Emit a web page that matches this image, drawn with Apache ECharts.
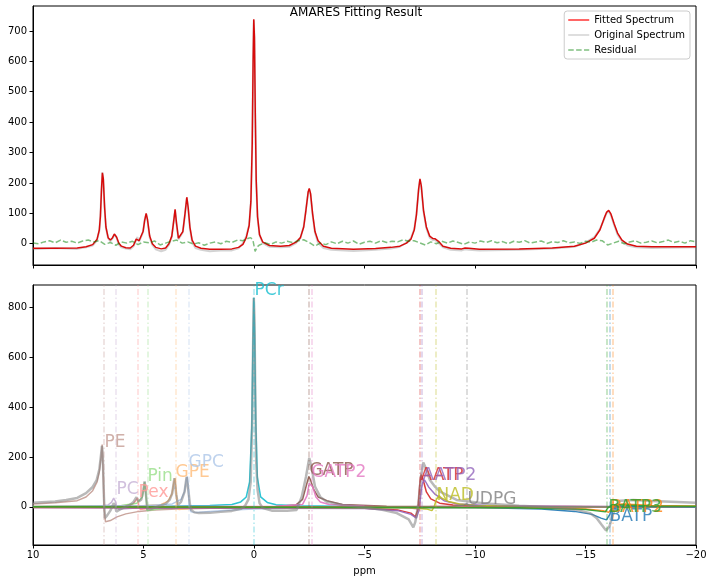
<!DOCTYPE html>
<html>
<head>
<meta charset="utf-8">
<script src="https://cdn.jsdelivr.net/npm/echarts@6/dist/echarts.min.js"></script>
<style>
html, body { margin: 0; padding: 0; background: #fff; }
#main { width: 712px; height: 582px; }
</style>
</head>
<body>
<div id="main"></div>
<script>
// AMARES fit: top = spectrum / fit / residual, bottom = components
var FONT = 'DejaVu Sans';

// ---- top panel ----
var fitPpm = [10, 9, 8, 7.6, 7.3, 7.1, 7.0, 6.95, 6.9, 6.86,
	6.82, 6.76, 6.7, 6.6, 6.5, 6.4, 6.32, 6.28, 6.22, 6.12,
	6.0, 5.8, 5.6, 5.45, 5.33, 5.28, 5.2, 5.12, 5.02, 4.95,
	4.88, 4.82, 4.72, 4.6, 4.45, 4.2, 4.0, 3.85, 3.72, 3.64,
	3.57, 3.51, 3.42, 3.33, 3.22, 3.12, 3.04, 2.98, 2.9, 2.8,
	2.65, 2.4, 2.0, 1.5, 1.0, 0.7, 0.5, 0.35, 0.22, 0.14,
	0.08, 0.04, 0.01, -0.02, -0.06, -0.1, -0.16, -0.25, -0.4, -0.7,
	-1.2, -1.6, -1.9, -2.1, -2.25, -2.35, -2.45, -2.5, -2.56, -2.65,
	-2.76, -2.9, -3.14, -3.5, -4.5, -5.5, -6.2, -6.6, -6.9, -7.1,
	-7.25, -7.35, -7.45, -7.51, -7.57, -7.67, -7.8, -7.95, -8.1, -8.2,
	-8.35, -8.55, -8.9, -9.4, -9.55, -9.63, -9.72, -10.2, -12, -13.5,
	-14.5, -15.0, -15.4, -15.65, -15.85, -15.95, -16.05, -16.15, -16.3, -16.45,
	-16.65, -16.9, -17.3, -18, -20];
var fitVal = [-15, -15, -14, -10, -3, 15, 45, 90, 180, 233,
	215, 120, 55, 20, 12, 20, 32, 34, 22, 2,
	-8, -13, -14, -5, 15, 20, 10, 10, 40, 75,
	100, 80, 25, 0, -12, -17, -14, 0, 25, 70,
	113, 70, 18, 12, 40, 100, 153, 120, 55, 12,
	-8, -15, -18, -18, -17, -12, -2, 20, 60, 140,
	330, 600, 738, 680, 420, 210, 90, 30, 5, -6,
	-8, -6, 5, 20, 55, 110, 170, 182, 165, 100,
	40, 10, -8, -15, -18, -16, -12, -8, 2, 15,
	45, 95, 180, 213, 190, 110, 55, 25, 17, 16,
	8, -8, -15, -17, -14, -10, -15, -18, -17, -14,
	-8, 2, 18, 45, 85, 103, 110, 98, 65, 35,
	12, -1, -8, -10, -10];
var origVal = [-18, -14, -17, -12, -6, 12, 42, 92, 178, 235,
	212, 118, 52, 18, 8, 18, 30, 36, 20, -2,
	-12, -16, -18, -8, 12, 22, 6, 12, 38, 78,
	98, 76, 20, -4, -18, -25, -20, -4, 22, 72,
	110, 66, 14, 10, 38, 98, 150, 118, 50, 6,
	-14, -20, -25, -22, -22, -15, 2, 25, 62, 138,
	325, 598, 735, 672, 410, 200, 85, 28, 2, -10,
	-12, -10, 2, 18, 58, 112, 168, 178, 160, 95,
	36, 2, -14, -20, -24, -20, -16, -10, 4, 18,
	48, 98, 178, 210, 186, 106, 50, 20, 12, 12,
	2, -12, -20, -22, -18, -12, -20, -22, -20, -16,
	-10, 4, 22, 48, 82, 100, 106, 94, 60, 30,
	8, -6, -12, -14, -12];
var resPpm = [10, 9.75, 9.5, 9.25, 9, 8.75, 8.5, 8.25,
	8, 7.75, 7.5, 7.25, 7, 6.75, 6.5, 6.25,
	6, 5.75, 5.5, 5.25, 5, 4.75, 4.5, 4.25,
	4, 3.75, 3.5, 3.25, 3, 2.75, 2.5, 2.25,
	2, 1.75, 1.5, 1.25, 1, 0.75, 0.5, 0.25,
	0.15, 0.05, -0.05, -0.15,
	-0.25, -0.5, -0.75, -1, -1.25, -1.5, -1.75, -2,
	-2.25, -2.5, -2.75, -3, -3.25, -3.5, -3.75, -4,
	-4.25, -4.5, -4.75, -5, -5.25, -5.5, -5.75, -6,
	-6.25, -6.5, -6.75, -7, -7.25, -7.5, -7.75, -8,
	-8.25, -8.5, -8.75, -9, -9.25, -9.5, -9.75, -10,
	-10.25, -10.5, -10.75, -11, -11.25, -11.5, -11.75, -12,
	-12.25, -12.5, -12.75, -13, -13.25, -13.5, -13.75, -14,
	-14.25, -14.5, -14.75, -15, -15.25, -15.5, -15.75, -16,
	-16.25, -16.5, -16.75, -17, -17.25, -17.5, -17.75, -18,
	-18.25, -18.5, -18.75, -19, -19.25, -19.5, -19.75, -20];
var resVal = [2, 0, 6, 10, 3, 12, 5, 8,
	2, 9, 12, 6, 10, -2, 4, -5,
	6, 2, 8, -3, 6, 3, 9, -4,
	2, 8, 12, 2, 6, -1, 3, -5,
	2, 6, 0, 8, 4, 12, 10, 18,
	20, 12, -25, -10,
	-4, 3, -2, 6, 2, 8, 4, 10,
	13, 4, -8, 2, -3, 6, 0, 8,
	2, 9, -2, 5, 8, 2, 10, 4,
	8, 6, 13, 8, 10, 3, -4, 6,
	0, 8, 2, 9, 4, -2, 6, 2,
	9, 4, 10, 3, 7, 0, 8, 5,
	10, 2, 6, 9, 1, 7, 4, 10,
	3, 6, 1, 8, 5, 12, 10, -4,
	2, 8, 0, 6, 10, 2, 5, 9,
	3, 7, 12, 4, 8, 2, 10, 6];
var topTicks = [0, 100, 200, 300, 400, 500, 600, 700];

// ---- bottom panel ----
var sumPpm = [10, 9, 8.5, 8, 7.6, 7.3, 7.12, 7.0, 6.92, 6.88,
	6.84, 6.79, 6.75, 6.65, 6.5, 6.4, 6.35, 6.28, 6.23, 6.1,
	5.9, 5.62, 5.45, 5.32, 5.22, 5.1, 5.0, 4.95, 4.9, 4.82,
	4.7, 4.5, 4.27, 4.0, 3.82, 3.7, 3.6, 3.52, 3.44, 3.3,
	3.14, 3.05, 3.0, 2.9, 2.84, 2.7, 2.5, 2.0, 1.5, 1.0,
	0.6, 0.4, 0.25, 0.15, 0.08, 0.04, 0.01, -0.02, -0.06, -0.1,
	-0.16, -0.25, -0.4, -0.8, -1.5, -1.93, -2.16, -2.35, -2.5, -2.6,
	-2.76, -3.0, -3.29, -4.0, -4.95, -5.8, -6.46, -7.0, -7.21, -7.3,
	-7.44, -7.55, -7.66, -7.75, -7.96, -8.2, -8.42, -9.17, -10.37, -12,
	-13.4, -14.5, -15.2, -15.5, -15.73, -15.93, -16.08, -16.26, -16.4, -16.56,
	-17.16, -18, -20];
var sumVal = [17, 22, 28, 36, 55, 80, 108, 150, 210, 245,
	200, 40, -45, -35, -15, 5, 15, 5, -19, -12,
	-3, 8, 20, 39, 21, 30, 70, 102, 60, -12,
	-10, -3, 4, 12, 28, 55, 115, 50, 8, 20,
	61, 120, 90, 10, -12, -22, -25, -24, -20, -16,
	-8, 5, 30, 100, 350, 650, 840, 760, 430, 180,
	70, 15, -5, -15, -15, -12, 41, 120, 196, 160,
	82, 40, 21, 8, -1, -12, -25, -50, -82, -60,
	15, 120, 178, 160, 108, 80, 61, 28, 15, 5,
	-1, -10, -25, -45, -72, -95, -79, -25, 5, 25,
	28, 24, 17];

var compNames = ['PE', 'PC', 'Pex', 'Pin', 'GPE', 'GPC', 'PCr', 'GATP', 'GATP2',
	'AATP', 'AATP2', 'NAD', 'UDPG', 'BATP', 'BATP2', 'BATP3'];
var compColors = ['#c49c94', '#c5b0d5', '#ff9896', '#98df8a', '#ffbb78', '#aec7e8', '#17becf', '#8c564b', '#e377c2',
	'#d62728', '#9467bd', '#bcbd22', '#7f7f7f', '#1f77b4', '#ff7f0e', '#2ca02c'];
var peakPpm = [6.79, 6.24, 5.26, 4.81, 3.54, 2.94, 0.0, -2.49, -2.61,
	-7.48, -7.59, -8.24, -9.62, -16.08, -16.23, -15.96];
var compPpm = [
	[10, 9, 8, 7.6, 7.3, 7.1, 7.0, 6.92, 6.87, 6.83, 6.78, 6.72, 6.66, 6.5, 6.2, 5.8, 5.2, 4.5, 3.5, 2, 0, -5, -20],
	[10, 7, 6.6, 6.45, 6.35, 6.3, 6.26, 6.2, 6.1, 5.9, 5.5, 4, -20],
	[10, 6, 5.5, 5.35, 5.28, 5.22, 5.15, 5.0, 4.5, 3, -20],
	[10, 6, 5.3, 5.05, 4.95, 4.9, 4.84, 4.75, 4.5, 4, 2, -20],
	[10, 5, 4.2, 3.9, 3.72, 3.62, 3.57, 3.52, 3.46, 3.4, 3.2, 2.5, 1, -20],
	[10, 5, 3.7, 3.3, 3.15, 3.06, 3.02, 2.98, 2.92, 2.85, 2.6, 2, 1, 0, -2, -20],
	[10, 4, 2, 1, 0.6, 0.35, 0.2, 0.1, 0.05, 0.01, -0.03, -0.08, -0.15, -0.3, -0.6, -1, -2, -5, -20],
	[10, -1, -1.9, -2.2, -2.38, -2.48, -2.55, -2.7, -2.9, -3.3, -4, -6, -20],
	[10, -1, -2.2, -2.4, -2.5, -2.58, -2.66, -2.8, -3.0, -3.4, -5, -7, -7.4, -8, -20],
	[10, -5, -6.5, -7.1, -7.3, -7.42, -7.5, -7.56, -7.65, -7.8, -8.0, -8.4, -9, -11, -20],
	[10, -5, -6.5, -7.1, -7.35, -7.48, -7.56, -7.62, -7.72, -7.9, -8.2, -8.6, -9.2, -11, -20],
	[10, -7, -7.8, -8.05, -8.15, -8.25, -8.38, -8.5, -8.8, -9.3, -10, -12, -20],
	[10, -9, -9.5, -9.62, -9.75, -10.5, -20],
	[10, -10, -13, -14.5, -15.3, -15.7, -15.95, -16.1, -16.2, -16.35, -16.6, -18, -20],
	[10, -12, -15, -15.8, -16.05, -16.2, -16.4, -16.7, -18, -20],
	[10, -12, -15, -15.7, -15.9, -16.0, -16.2, -16.6, -18, -20]
];
var compVal = [
	[12, 17, 25, 40, 65, 100, 140, 200, 250, 150, -10, -60, -68, -55, -40, -28, -18, -12, -8, -5, -3, -1, 0],
	[2, 4, 8, 18, 35, 40, 20, -5, -10, -8, -5, -2, 0],
	[1, 4, 10, 25, 35, 10, -10, -8, -4, -2, 0],
	[2, 6, 15, 40, 100, 60, -15, -18, -10, -5, -2, 0],
	[2, 5, 10, 22, 50, 100, 115, 60, 0, -10, -8, -4, -2, 0],
	[2, 5, 12, 30, 60, 110, 122, 80, 0, -20, -22, -18, -12, -8, -4, 0],
	[1, 3, 6, 10, 20, 40, 100, 320, 640, 840, 690, 340, 120, 40, 18, 9, 5, 2, 1],
	[0, 2, 8, 30, 90, 122, 110, 70, 40, 25, 10, 3, 0],
	[1, 3, 10, 45, 95, 100, 80, 40, 20, 10, 3, -3, -8, 2, 0],
	[-2, -5, -12, -25, -40, -10, 90, 130, 110, 60, 32, 15, 8, 3, 0],
	[-2, -6, -15, -30, -45, -10, 60, 95, 108, 80, 50, 25, 12, 4, 0],
	[0, -3, -8, -15, 0, 30, 45, 35, 22, 12, 6, 2, 0],
	[0, 2, 8, 12, 6, 2, 0],
	[1, -2, -8, -18, -30, -45, -52, -30, -5, 5, 4, 2, 1],
	[1, -2, -8, -15, -22, -5, 10, 12, 6, 4],
	[1, -3, -10, -18, -20, -5, 8, 8, 4, 3]
];
// where the names were written (ppm of left edge, height of text middle)
var labelPpm = [6.74, 6.2, 5.2, 4.8, 3.53, 2.94, -0.05, -2.53, -2.62,
	-7.56, -7.65, -8.28, -9.68, -16.11, -16.15, -16.06];
var labelVal = [257, 68, 56, 120, 137, 177, 867, 145, 137,
	124, 124, 44, 28, -40, -4, -4];
var bottomTicks = [0, 200, 400, 600, 800];

function pairs(xs, ys) {
	return xs.map(function (x, i) { return [x, ys[i]]; });
}
function ppmFmt(v) {
	return v < 0 ? '\u2212' + (-v) : '' + v;
}
function xAxisCfg(idx, showLabel) {
	return {
		type: 'value', gridIndex: idx, min: -20, max: 10, interval: 5, inverse: true,
		axisLine: { show: true, onZero: false, lineStyle: { color: '#000', width: 1 } },
		axisTick: { show: true, length: 3.5, lineStyle: { color: '#000', width: 1 } },
		axisLabel: { show: showLabel, color: '#000', fontSize: 10, fontFamily: FONT, margin: 5, formatter: ppmFmt },
		splitLine: { show: false },
		name: showLabel ? 'ppm' : '',
		nameLocation: 'middle', nameGap: 21,
		nameTextStyle: { color: '#000', fontSize: 10, fontFamily: FONT }
	};
}
function yAxisCfg(idx, min, max, ticks) {
	return {
		type: 'value', gridIndex: idx, min: min, max: max,
		axisLine: { show: true, onZero: false, lineStyle: { color: '#000', width: 1 } },
		axisTick: { show: true, length: 3.5, lineStyle: { color: '#000', width: 1 }, customValues: ticks },
		axisLabel: { color: '#000', fontSize: 10, fontFamily: FONT, margin: 6, customValues: ticks },
		splitLine: { show: false }
	};
}

var series = [
	{
		name: 'Original Spectrum', type: 'line', xAxisIndex: 0, yAxisIndex: 0,
		data: pairs(fitPpm, origVal), showSymbol: false, symbol: 'none',
		lineStyle: { color: 'rgba(128,128,128,0.35)', width: 2 },
		itemStyle: { color: 'rgba(128,128,128,0.35)' }
	},
	{
		name: 'Fitted Spectrum', type: 'line', xAxisIndex: 0, yAxisIndex: 0,
		data: pairs(fitPpm, fitVal), showSymbol: false, symbol: 'none',
		lineStyle: { color: 'rgba(215,0,0,0.95)', width: 1.5 },
		itemStyle: { color: 'rgba(215,0,0,0.95)' }
	},
	{
		name: 'Residual', type: 'line', xAxisIndex: 0, yAxisIndex: 0,
		data: pairs(resPpm, resVal), showSymbol: false, symbol: 'none',
		lineStyle: { color: 'rgba(0,128,0,0.5)', width: 1.5, type: [5.5, 2.4] },
		itemStyle: { color: 'rgba(0,128,0,0.5)' }
	},
	{
		type: 'line', xAxisIndex: 1, yAxisIndex: 1, data: [], silent: true,
		markLine: {
			symbol: ['none', 'none'], silent: true, label: { show: false }, animation: false,
			data: peakPpm.map(function (p, i) {
				return { xAxis: p, lineStyle: { color: compColors[i], opacity: 0.35, width: 1.5, type: [6, 2.5, 1.5, 2.5] } };
			})
		}
	}
];
for (var i = 0; i < compNames.length; i++) {
	series.push({
		name: compNames[i], type: 'line', xAxisIndex: 1, yAxisIndex: 1,
		data: pairs(compPpm[i], compVal[i]), showSymbol: false, symbol: 'none',
		lineStyle: { color: compColors[i], width: 1.5, opacity: 0.9 }
	});
}
series.push({
	name: 'sum', type: 'line', xAxisIndex: 1, yAxisIndex: 1,
	data: pairs(sumPpm, sumVal), showSymbol: false, symbol: 'none',
	lineStyle: { color: '#808080', width: 2.5, opacity: 0.55 }
});
series.push({
	type: 'scatter', xAxisIndex: 1, yAxisIndex: 1, symbolSize: 1, silent: true, z: 10,
	itemStyle: { color: 'rgba(0,0,0,0)' },
	data: compNames.map(function (n, i) {
		return { name: n, value: [labelPpm[i], labelVal[i]], label: { color: compColors[i] } };
	}),
	label: {
		show: true, formatter: '{b}', position: [0, 0], align: 'left', verticalAlign: 'middle',
		fontSize: 17, fontFamily: FONT
	}
});

// legend keys: plain strokes, dashed for the residual
var solidKey = 'path://M0,0H21V1.5H0Z';
var dashKey = 'path://M0,0H5.5V1.5H0Z M7.9,0H13.4V1.5H7.9Z M15.8,0H21V1.5H15.8Z';

var chart = echarts.init(document.getElementById('main'));
var option = {
	backgroundColor: '#fff',
	animation: false,
	textStyle: { fontFamily: FONT },
	title: {
		text: 'AMARES Fitting Result', left: 'center', top: 7, padding: 0,
		textStyle: { fontSize: 12, fontWeight: 'normal', color: '#000', fontFamily: FONT }
	},
	legend: {
		data: [
			{ name: 'Fitted Spectrum', icon: solidKey, itemStyle: { color: 'rgba(255,0,0,0.8)' } },
			{ name: 'Original Spectrum', icon: solidKey, itemStyle: { color: 'rgba(128,128,128,0.35)' } },
			{ name: 'Residual', icon: dashKey, itemStyle: { color: 'rgba(0,128,0,0.5)' } }
		],
		orient: 'vertical', right: 22, top: 11,
		itemWidth: 21, itemHeight: 10, itemGap: 5,
		padding: [4, 5, 4, 4],
		itemStyle: { borderWidth: 0 },
		borderColor: '#cccccc', borderWidth: 1, borderRadius: 3,
		backgroundColor: 'rgba(255,255,255,0.8)',
		textStyle: { fontSize: 10, color: '#000', fontFamily: FONT }
	},
	grid: [
		{ left: 33, right: 16, top: 6, height: 259, show: true, borderColor: '#000', borderWidth: 1 },
		{ left: 33, right: 16, top: 285, height: 260, show: true, borderColor: '#000', borderWidth: 1 }
	],
	xAxis: [xAxisCfg(0, false), xAxisCfg(1, true)],
	yAxis: [yAxisCfg(0, -70, 782, topTicks), yAxisCfg(1, -153, 891, bottomTicks)],
	series: series
};
chart.setOption(option);
</script>
</body>
</html>
